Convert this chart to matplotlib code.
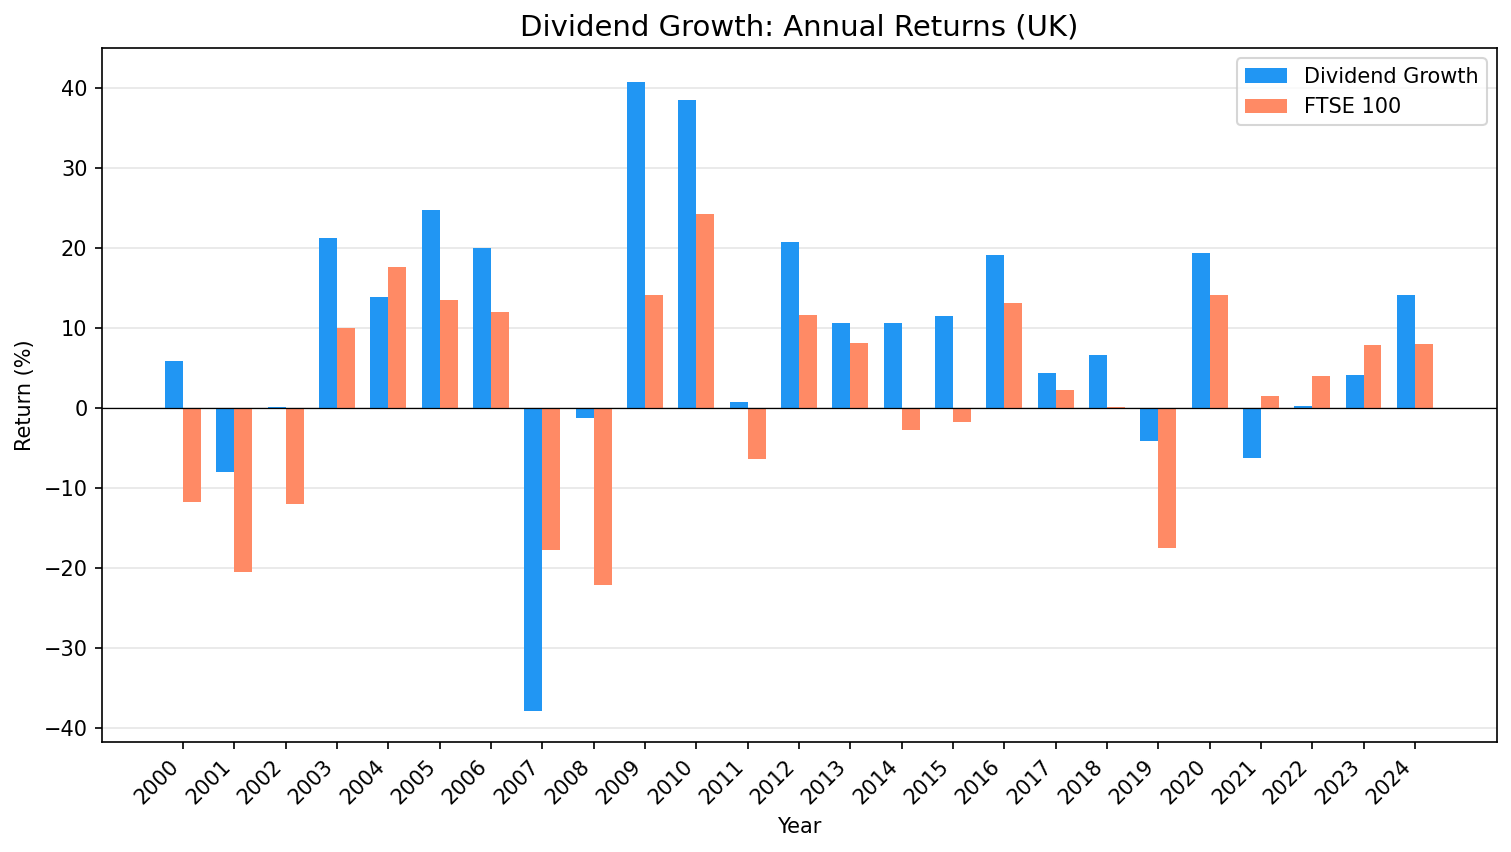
import numpy as np
import matplotlib
matplotlib.use('Agg')
import matplotlib.pyplot as plt

years = list(range(2000, 2025))
dividend_growth = [5.9, -8.0, 0.2, 21.2, 13.9, 24.7, 20.0, -37.8, -1.2, 40.8,
                   38.5, 0.8, 20.8, 10.7, 10.7, 11.5, 19.1, 4.4, 6.6, -4.1,
                   19.4, -6.2, 0.3, 4.1, 14.2]
ftse_100 = [-11.7, -20.5, -12.0, 10.0, 17.6, 13.5, 12.0, -17.7, -22.1, 14.2,
            24.3, -6.3, 11.7, 8.1, -2.7, -1.7, 13.1, 2.25, 0.1, -17.5,
            14.1, 1.5, 4.0, 7.9, 8.0]

x = np.arange(len(years))
w = 0.35

fig, ax = plt.subplots(figsize=(1511/150, 852/150), dpi=150)
fig.subplots_adjust(left=0.0675, right=0.9907, top=0.9437, bottom=0.1291)

ax.bar(x - w/2, dividend_growth, w, color='#2196F3', label='Dividend Growth')
ax.bar(x + w/2, ftse_100, w, color='#FF8A65', label='FTSE 100')
ax.axhline(0, color='black', linewidth=0.6)
ax.yaxis.grid(True, color='#e6e6e6', linewidth=0.8)
ax.set_axisbelow(True)

ax.set_xticks(x)
ax.set_xticklabels([str(y) for y in years], rotation=45, ha='right')
ax.tick_params(labelsize=10)
ax.set_xlim(-1.58, 25.6)
ax.set_ylim(-41.7, 45.0)
ax.set_xlabel('Year', fontsize=10)
ax.set_ylabel('Return (%)', fontsize=10)
ax.set_title('Dividend Growth: Annual Returns (UK)', fontsize=14)
ax.legend(loc='upper right', fontsize=10)

fig.savefig('out.png', dpi=150)
